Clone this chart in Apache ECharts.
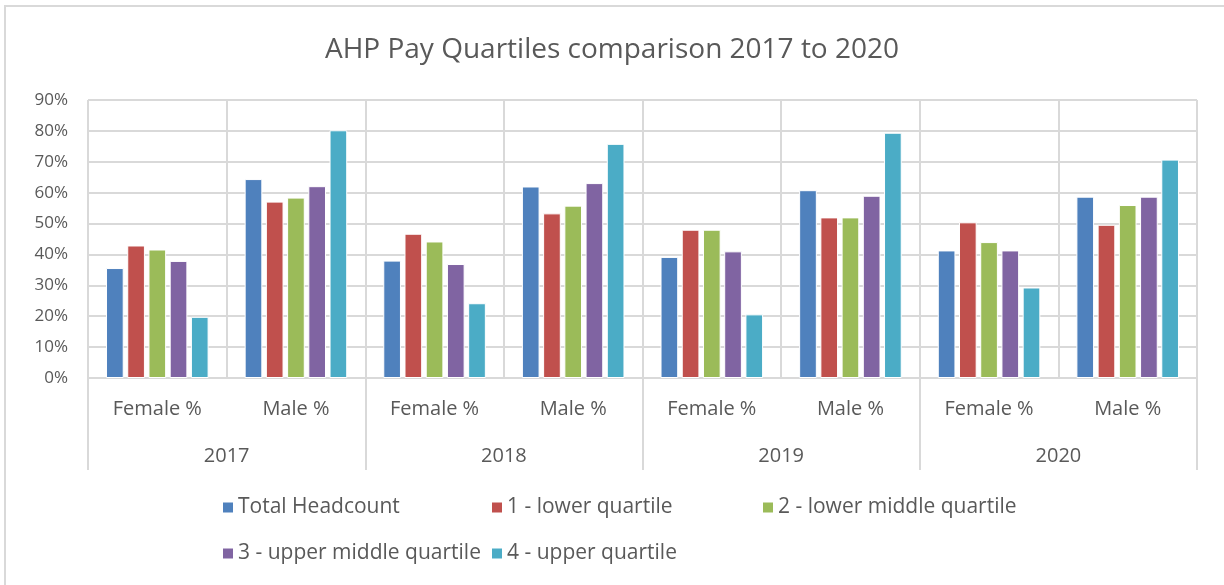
<!DOCTYPE html>
<html>
<head>
<meta charset="utf-8">
<script src="https://cdn.jsdelivr.net/npm/echarts@6/dist/echarts.min.js"></script>
<style>
html,body{margin:0;padding:0;background:#fff;}
#chart{width:1224px;height:585px;}
</style>
</head>
<body>
<div id="chart"></div>
<script>
const years = ['2017', '2018', '2019', '2020'];
const genders = ['Female %', 'Male %'];
const seriesNames = ['Total Headcount', '1 - lower quartile', '2 - lower middle quartile', '3 - upper middle quartile', '4 - upper quartile'];
// values per category: 2017 F, 2017 M, 2018 F, 2018 M, 2019 F, 2019 M, 2020 F, 2020 M
const totalHeadcount   = [35.6, 64.4, 38.0, 62.0, 39.2, 60.8, 41.3, 58.7];
const lowerQuartile    = [42.9, 57.1, 46.7, 53.3, 48.0, 52.0, 50.4, 49.6];
const lowerMiddle      = [41.6, 58.4, 44.2, 55.8, 48.0, 52.0, 44.0, 56.0];
const upperMiddle      = [37.9, 62.1, 36.9, 63.1, 41.0, 59.0, 41.3, 58.7];
const upperQuartile    = [19.8, 80.2, 24.2, 75.8, 20.6, 79.4, 29.3, 70.7];
const yTicks = [0, 10, 20, 30, 40, 50, 60, 70, 80, 90];

const colors = ['#4F81BD', '#C0504D', '#9BBB59', '#8064A2', '#4BACC6'];
const seriesValues = [totalHeadcount, lowerQuartile, lowerMiddle, upperMiddle, upperQuartile];

const categories = [];
years.forEach(y => genders.forEach(g => categories.push(g)));

const FONT = '"Open Sans", sans-serif';
const TXT = '#595959';
const GRID = '#d9d9d9';

const chart = echarts.init(document.getElementById('chart'), null, {renderer: 'canvas'});

const legendPos = [
  {left: 221, top: 497},
  {left: 490, top: 497},
  {left: 761, top: 497},
  {left: 221, top: 543},
  {left: 490, top: 543}
];

chart.setOption({
  animation: false,
  backgroundColor: '#fff',
  color: colors,
  title: {
    text: 'AHP Pay Quartiles comparison 2017 to 2020',
    left: 'center',
    top: 31,
    textStyle: {fontFamily: FONT, fontSize: 28, fontWeight: 'normal', color: TXT}
  },
  graphic: [{
    type: 'rect',
    shape: {x: 5, y: 6, width: 1300, height: 700},
    style: {fill: 'none', stroke: GRID, lineWidth: 2},
    silent: true
  }],
  legend: seriesNames.map((n, i) => ({
    data: [n],
    left: legendPos[i].left,
    top: legendPos[i].top,
    padding: 0,
    icon: 'rect',
    itemWidth: 12,
    itemHeight: 12,
    itemGap: 0,
    textStyle: {fontFamily: FONT, fontSize: 21, color: TXT, padding: [0, 0, 0, -1]},
    selectedMode: false
  })),
  grid: {left: 88, right: 27, top: 100, bottom: 207, containLabel: false},
  xAxis: [
    {
      type: 'category',
      data: categories,
      position: 'bottom',
      boundaryGap: true,
      axisLine: {show: true, lineStyle: {color: GRID, width: 2}},
      axisTick: {show: false},
      splitLine: {show: true, lineStyle: {color: GRID, width: 2}},
      axisLabel: {margin: 21, fontFamily: FONT, fontSize: 20, color: TXT, interval: 0}
    },
    {
      type: 'category',
      data: years,
      position: 'bottom',
      offset: 0,
      boundaryGap: true,
      axisLine: {show: false},
      axisTick: {show: true, length: 92, lineStyle: {color: GRID, width: 2}},
      splitLine: {show: false},
      axisLabel: {margin: 68, fontFamily: FONT, fontSize: 20, color: TXT, interval: 0}
    }
  ],
  yAxis: {
    type: 'value',
    min: yTicks[0],
    max: yTicks[yTicks.length - 1],
    interval: 10,
    axisLine: {show: false},
    axisTick: {show: false},
    splitLine: {show: true, lineStyle: {color: GRID, width: 2}},
    axisLabel: {margin: 20, fontFamily: FONT, fontSize: 17, color: TXT, formatter: v => v + '%'}
  },
  series: seriesNames.map((n, i) => ({
    name: n,
    type: 'bar',
    xAxisIndex: 0,
    data: seriesValues[i],
    barGap: '20%',
    barCategoryGap: '26%',
    itemStyle: {color: colors[i], borderColor: '#ffffff', borderWidth: 1}
  }))
});
</script>
</body>
</html>
